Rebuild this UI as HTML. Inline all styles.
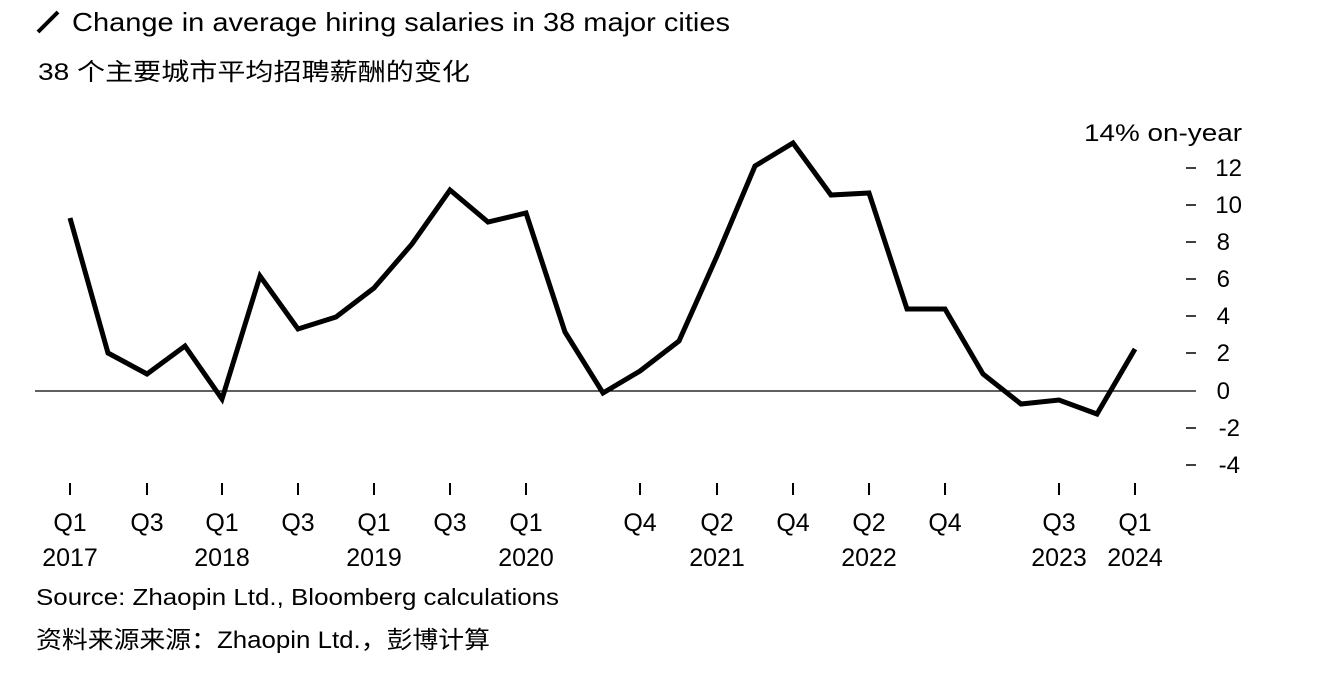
<!DOCTYPE html>
<html><head><meta charset="utf-8"><style>
body{margin:0;background:#fff;width:1342px;height:684px;overflow:hidden}
svg text{font-family:"Liberation Sans","Noto Sans CJK SC",sans-serif;fill:#000}
</style></head><body>
<svg width="1342" height="684" viewBox="0 0 1342 684" xmlns="http://www.w3.org/2000/svg">
<line x1="38" y1="32" x2="58" y2="12" stroke="#000" stroke-width="4"/>
<text x="72" y="31" font-size="26" textLength="658" lengthAdjust="spacingAndGlyphs">Change in average hiring salaries in 38 major cities</text>
<text x="38" y="80" font-size="24" textLength="432" lengthAdjust="spacingAndGlyphs">38 个主要城市平均招聘薪酬的变化</text>
<text x="1242" y="141" font-size="24" text-anchor="end" textLength="158" lengthAdjust="spacingAndGlyphs">14% on-year</text>
<g font-size="24" text-anchor="end">
<text x="1242" y="176">12</text><text x="1242" y="213">10</text><text x="1230" y="250">8</text>
<text x="1230" y="287">6</text><text x="1230" y="324">4</text><text x="1230" y="361">2</text>
<text x="1230" y="399">0</text><text x="1240" y="436">-2</text><text x="1240" y="473">-4</text>
</g>
<g stroke="#000" stroke-width="1.5">
<line x1="1186" y1="168" x2="1196" y2="168"/><line x1="1186" y1="205" x2="1196" y2="205"/>
<line x1="1186" y1="242" x2="1196" y2="242"/><line x1="1186" y1="279" x2="1196" y2="279"/>
<line x1="1186" y1="316" x2="1196" y2="316"/><line x1="1186" y1="353" x2="1196" y2="353"/>
<line x1="1186" y1="428" x2="1196" y2="428"/><line x1="1186" y1="465" x2="1196" y2="465"/>
<line x1="35" y1="391" x2="1196" y2="391" stroke-width="1.3"/>
</g>
<g stroke="#000" stroke-width="2">
<line x1="70" y1="483" x2="70" y2="495"/><line x1="147" y1="483" x2="147" y2="495"/>
<line x1="222" y1="483" x2="222" y2="495"/><line x1="298" y1="483" x2="298" y2="495"/>
<line x1="374" y1="483" x2="374" y2="495"/><line x1="450" y1="483" x2="450" y2="495"/>
<line x1="526" y1="483" x2="526" y2="495"/><line x1="640" y1="483" x2="640" y2="495"/>
<line x1="717" y1="483" x2="717" y2="495"/><line x1="793" y1="483" x2="793" y2="495"/>
<line x1="869" y1="483" x2="869" y2="495"/><line x1="945" y1="483" x2="945" y2="495"/>
<line x1="1059" y1="483" x2="1059" y2="495"/><line x1="1135" y1="483" x2="1135" y2="495"/>
</g>
<g font-size="25" text-anchor="middle">
<text x="70" y="531">Q1</text><text x="147" y="531">Q3</text><text x="222" y="531">Q1</text>
<text x="298" y="531">Q3</text><text x="374" y="531">Q1</text><text x="450" y="531">Q3</text>
<text x="526" y="531">Q1</text><text x="640" y="531">Q4</text><text x="717" y="531">Q2</text>
<text x="793" y="531">Q4</text><text x="869" y="531">Q2</text><text x="945" y="531">Q4</text>
<text x="1059" y="531">Q3</text><text x="1135" y="531">Q1</text>
<text x="70" y="566">2017</text><text x="222" y="566">2018</text><text x="374" y="566">2019</text>
<text x="526" y="566">2020</text><text x="717" y="566">2021</text><text x="869" y="566">2022</text>
<text x="1059" y="566">2023</text><text x="1135" y="566">2024</text>
</g>
<polyline fill="none" stroke="#000" stroke-width="5" stroke-linejoin="miter" points="70,218 108,353 147,374 185,346 222,399 260,276 298,329 336,317 374,288 412,244 450,190 488,222 526,213 565,332 603,393 640,371 679,341 717,256 755,166 793,143 831,195 869,193 907,309 945,309 983,374 1021,404 1059,400 1097,414 1135,349"/>
<text x="36" y="605" font-size="23" textLength="523" lengthAdjust="spacingAndGlyphs">Source: Zhaopin Ltd., Bloomberg calculations</text>
<text x="36" y="648" font-size="24" textLength="454" lengthAdjust="spacingAndGlyphs">资料来源来源：Zhaopin Ltd.，彭博计算</text>
</svg>
</body></html>
